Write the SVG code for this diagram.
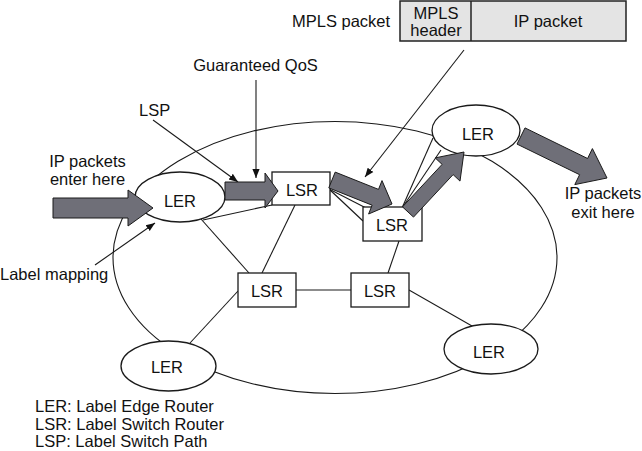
<svg xmlns="http://www.w3.org/2000/svg" width="642" height="451" viewBox="0 0 642 451">
<defs>
<marker id="ah" viewBox="0 0 10 10" refX="10" refY="5" markerWidth="9" markerHeight="9" markerUnits="userSpaceOnUse" orient="auto">
<path d="M0,1 L10,5 L0,9 z" fill="#111"/>
</marker>
</defs>
<style>
text{font-family:"Liberation Sans",Arial,sans-serif;font-size:16.5px;fill:#111}
.c{text-anchor:middle}
.ln{stroke:#1a1a1a;stroke-width:1.1;fill:none}
.ptr{stroke:#1a1a1a;stroke-width:1.1;fill:none;marker-end:url(#ah)}
.nd{fill:#fff;stroke:#1a1a1a;stroke-width:1.3}
.blk{fill:#6f6f78;stroke:#1a1a1a;stroke-width:1}
</style>
<rect width="642" height="451" fill="#fff"/>

<g id="connectors">
<ellipse class="ln" cx="335" cy="257.5" rx="222" ry="136"/>
<line class="ln" x1="203" y1="220" x2="272" y2="205"/>
<line class="ln" x1="201" y1="219" x2="249" y2="273"/>
<line class="ln" x1="295" y1="205" x2="262" y2="273"/>
<line class="ln" x1="329" y1="189" x2="363" y2="221"/>
<line class="ln" x1="329" y1="189" x2="366" y2="208"/>
<line class="ln" x1="402" y1="208" x2="433" y2="138"/>
<line class="ln" x1="402" y1="208" x2="441" y2="150"/>
<line class="ln" x1="296" y1="290" x2="351" y2="290"/>
<line class="ln" x1="238" y1="291" x2="190" y2="343"/>
<line class="ln" x1="388" y1="273" x2="399" y2="241"/>
<line class="ln" x1="409" y1="290" x2="472" y2="326"/>
<line class="ptr" x1="153" y1="120" x2="238" y2="182"/>
<line class="ptr" x1="256" y1="80" x2="256" y2="178"/>
<line class="ptr" x1="95" y1="265" x2="155" y2="223"/>
<line class="ptr" x1="464" y1="50" x2="365" y2="177"/>
</g>

<g id="ler1"><ellipse class="nd" cx="180" cy="197" rx="45" ry="25"/><text class="c" x="180" y="207">LER</text></g>
<g id="ler2"><ellipse class="nd" cx="476" cy="130.5" rx="44" ry="25.5"/><text class="c" x="478" y="140">LER</text></g>
<g id="ler3"><ellipse class="nd" cx="491" cy="349" rx="47" ry="25"/><text class="c" x="489" y="358">LER</text></g>
<g id="ler4"><ellipse class="nd" cx="168.5" cy="366" rx="47.5" ry="25"/><text class="c" x="167" y="373">LER</text></g>
<g id="lsr1"><rect class="nd" x="272" y="172" width="58" height="33"/><text class="c" x="302" y="196">LSR</text></g>
<g id="lsr2"><rect class="nd" x="363" y="207" width="59" height="34"/><text class="c" x="392" y="231">LSR</text></g>
<g id="lsr3"><rect class="nd" x="238" y="273" width="58" height="34"/><text class="c" x="267" y="297">LSR</text></g>
<g id="lsr4"><rect class="nd" x="351" y="273" width="58" height="34"/><text class="c" x="380" y="297">LSR</text></g>

<g id="packet">
<rect x="400" y="1" width="226" height="40" fill="#e4e4e4" stroke="#222" stroke-width="1.5"/>
<line x1="471" y1="1" x2="471" y2="41" stroke="#222" stroke-width="1.5"/>
<text class="c" x="436" y="18.5">MPLS</text>
<text class="c" x="436" y="36">header</text>
<text class="c" x="548" y="26.5">IP packet</text>
</g>

<g id="flow">
<polygon class="blk" points="53,198 128,198 128,190 153,208 128,226 128,218 53,218"/>
<polygon class="blk" points="225,182 265,182 265,173 278,191 265,208 265,200 225,200"/>
<polygon class="blk" points="335.2,172.1 378.5,189.4 382,180.6 392,204 368.6,214 372.1,205.2 328.8,187.9"/>
<polygon class="blk" points="402.5,206.9 442.1,164.4 435.2,157.9 464,152 460,181.1 453.1,174.6 413.5,217.1"/>
<polygon class="blk" points="525,127.9 587.6,158.5 592.4,148.6 607,178 574.8,184.6 579.6,174.7 517,144.1"/>
</g>

<g id="labels">
<text x="292" y="27">MPLS packet</text>
<text class="c" x="255.5" y="71">Guaranteed QoS</text>
<text x="139" y="116">LSP</text>
<text class="c" x="87.5" y="167">IP packets</text>
<text class="c" x="87.5" y="185">enter here</text>
<text class="c" x="603" y="199">IP packets</text>
<text class="c" x="603" y="218">exit here</text>
<text x="0" y="280">Label mapping</text>
<text x="35" y="411.5">LER: Label Edge Router</text>
<text x="35" y="430">LSR: Label Switch Router</text>
<text x="35" y="447">LSP: Label Switch Path</text>
</g>
</svg>
